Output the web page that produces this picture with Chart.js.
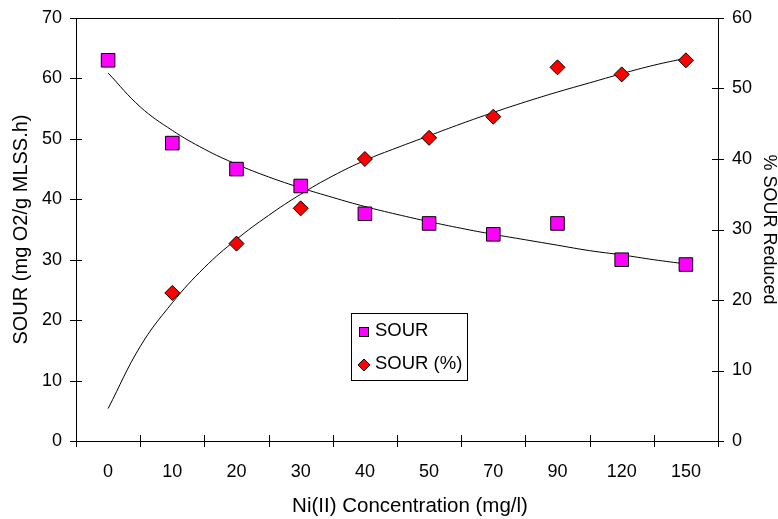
<!DOCTYPE html>
<html>
<head>
<meta charset="utf-8">
<script src="https://cdn.jsdelivr.net/npm/chart.js@4/dist/chart.umd.min.js"></script>
<style>
  html, body { margin: 0; padding: 0; background: #fff; }
  #wrap { position: relative; width: 778px; height: 519px; }
  canvas { display: block; }
</style>
</head>
<body>
<div id="wrap"><canvas id="c" width="778" height="519"></canvas></div>
<script>
// ---- data ----
const categories = ['0', '10', '20', '30', '40', '50', '70', '90', '120', '150'];
const sourValues = [63, 49.3, 45, 42.2, 37.6, 36, 34.2, 36, 30, 29.2];
const sourPctValues = [null, 21, 28, 33, 40, 43, 46, 53, 52, 54];
const leftTicks = [0, 10, 20, 30, 40, 50, 60, 70];
const rightTicks = [0, 10, 20, 30, 40, 50, 60];
// trend curves, at category-index positions
const trendIdx = [0, 0.5, 1, 1.5, 2, 2.5, 3, 3.5, 4, 4.5, 5, 5.5, 6, 6.5, 7, 7.5, 8, 8.5, 9];
const sourTrend = [60.9, 55.3, 51.4, 48.3, 45.8, 43.7, 41.9, 40.3, 38.8, 37.5, 36.3, 35.2, 34.2, 33.3, 32.4, 31.5, 30.8, 30.0, 29.3];
const pctTrend = [4.6, 13.4, 19.6, 24.6, 28.6, 32.0, 35.0, 37.6, 39.8, 41.6, 43.3, 45.0, 46.6, 48.1, 49.5, 50.8, 52.1, 53.3, 54.3];
const xTitle = 'Ni(II) Concentration (mg/l)';

const FONT = "'Liberation Sans', Arial, sans-serif";

const frame = {
  id: 'frame',
  afterDraw(chart) {
    const ctx = chart.ctx, a = chart.chartArea;
    const x = chart.scales.x, yl = chart.scales.y, yr = chart.scales.y2;
    ctx.save();
    ctx.strokeStyle = '#000';
    ctx.lineWidth = 1;
    ctx.beginPath();
    ctx.rect(Math.round(a.left) + 0.5, Math.round(a.top) + 0.5,
             Math.round(a.right - a.left), Math.round(a.bottom - a.top));
    ctx.stroke();
    ctx.beginPath();
    leftTicks.forEach(v => {
      const p = Math.round(yl.getPixelForValue(v)) + 0.5;
      ctx.moveTo(a.left - 6, p); ctx.lineTo(a.left + 6, p);
    });
    rightTicks.forEach(v => {
      const p = Math.round(yr.getPixelForValue(v)) + 0.5;
      ctx.moveTo(a.right - 6, p); ctx.lineTo(a.right + 6, p);
    });
    const n = categories.length;
    for (let i = 0; i <= n; i++) {
      let px;
      if (i === 0) px = a.left;
      else if (i === n) px = a.right;
      else px = (x.getPixelForValue(i - 1) + x.getPixelForValue(i)) / 2;
      px = Math.round(px) + 0.5;
      ctx.moveTo(px, a.bottom - 6); ctx.lineTo(px, a.bottom + 6);
    }
    ctx.stroke();

    // x axis title
    ctx.fillStyle = '#000';
    ctx.font = '20.5px ' + FONT;
    ctx.textBaseline = 'middle';
    ctx.textAlign = 'center';
    ctx.fillText(xTitle, (a.left + a.right) / 2 + 13, 506);

    // legend box
    const lx = 351, ly = 313, lw = 116, lh = 67;
    ctx.fillStyle = '#fff';
    ctx.fillRect(lx, ly, lw, lh);
    ctx.strokeRect(lx + 0.5, ly + 0.5, lw, lh);
    ctx.fillStyle = '#FF00FF';
    ctx.fillRect(359, 327, 9, 9);
    ctx.strokeRect(359.5, 327.5, 9, 9);
    ctx.beginPath();
    ctx.moveTo(364, 359); ctx.lineTo(370, 365); ctx.lineTo(364, 371); ctx.lineTo(358, 365); ctx.closePath();
    ctx.fillStyle = '#FF0000';
    ctx.fill(); ctx.stroke();
    ctx.fillStyle = '#000';
    ctx.font = '18.5px ' + FONT;
    ctx.textAlign = 'left';
    ctx.fillText(chart.data.datasets[0].label, 375, 331);
    ctx.fillText(chart.data.datasets[1].label, 375, 364);
    ctx.restore();
  }
};

new Chart(document.getElementById('c'), {
  type: 'line',
  data: {
    labels: categories,
    datasets: [
      {
        label: 'SOUR',
        data: sourValues,
        xAxisID: 'x', yAxisID: 'y',
        showLine: false,
        pointStyle: 'rect', pointRadius: 9.6, pointHoverRadius: 9.6,
        backgroundColor: '#FF00FF', borderColor: '#000', borderWidth: 1,
        order: 1
      },
      {
        label: 'SOUR (%)',
        data: sourPctValues,
        xAxisID: 'x', yAxisID: 'y2',
        showLine: false,
        pointStyle: 'rectRot', pointRadius: 7.5, pointHoverRadius: 7.5,
        backgroundColor: '#FF0000', borderColor: '#000', borderWidth: 1,
        order: 1
      },
      {
        label: 'SOUR trend',
        data: trendIdx.map((t, i) => ({ x: t, y: sourTrend[i] })),
        xAxisID: 'xt', yAxisID: 'y',
        borderColor: '#000', borderWidth: 1, pointRadius: 0, tension: 0.4,
        fill: false, order: 2
      },
      {
        label: 'SOUR (%) trend',
        data: trendIdx.map((t, i) => ({ x: t, y: pctTrend[i] })),
        xAxisID: 'xt', yAxisID: 'y2',
        borderColor: '#000', borderWidth: 1, pointRadius: 0, tension: 0.4,
        fill: false, order: 2
      }
    ]
  },
  options: {
    responsive: false,
    animation: false,
    layout: { padding: { top: 18, left: 0, right: 0, bottom: 0 } },
    plugins: { legend: { display: false }, tooltip: { enabled: false } },
    scales: {
      x: {
        type: 'category',
        offset: true,
        grid: { display: false, drawTicks: false },
        border: { display: false },
        ticks: { color: '#000', font: { family: FONT, size: 18 }, padding: 20, maxRotation: 0 },
        afterFit(s) { s.height = 78; s.paddingLeft = 0; s.paddingRight = 0; }
      },
      xt: {
        type: 'linear', display: false, min: -0.5, max: 9.5
      },
      y: {
        position: 'left',
        min: 0, max: 70,
        grid: { display: false, drawTicks: false },
        border: { display: false },
        ticks: { stepSize: 10, color: '#000', font: { family: FONT, size: 18 }, padding: 14 },
        title: { display: true, text: 'SOUR (mg O2/g MLSS.h)', color: '#000',
                 font: { family: FONT, size: 20, lineHeight: 1 }, padding: { top: 11, bottom: 0 } },
        afterFit(s) { s.width = 76; s.paddingTop = 0; s.paddingBottom = 0; }
      },
      y2: {
        position: 'right',
        min: 0, max: 60,
        grid: { display: false, drawTicks: false },
        border: { display: false },
        ticks: { stepSize: 10, color: '#000', font: { family: FONT, size: 18 }, padding: 14 },
        title: { display: true, text: '% SOUR Reduced', color: '#000',
                 font: { family: FONT, size: 18, lineHeight: 1 }, padding: { top: 0, bottom: 0 } },
        afterFit(s) { s.width = 60; s.paddingTop = 0; s.paddingBottom = 0; }
      }
    }
  },
  plugins: [frame]
});
</script>
</body>
</html>
